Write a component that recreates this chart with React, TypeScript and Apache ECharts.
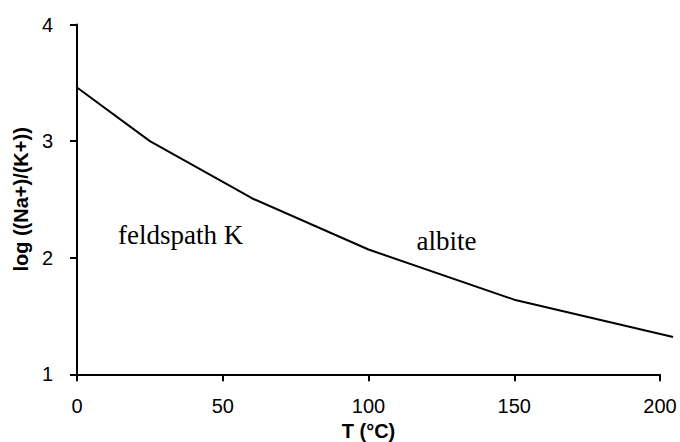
import React, { useEffect, useRef } from "react";
import * as echarts from "echarts";

const temperatures = [0, 25, 60, 100, 150, 204.5];
const logRatio = [3.46, 3.0, 2.51, 2.07, 1.64, 1.32];
const xTicks = [0, 50, 100, 150, 200];
const yTicks = [1, 2, 3, 4];
const regionLabels = ["feldspath K", "albite"];

export default function App() {
  const ref = useRef<HTMLDivElement>(null);
  useEffect(() => {
    if (!ref.current) return;
    const chart = echarts.init(ref.current, null, { renderer: "svg" });
    const serif = "'Liberation Serif', 'Times New Roman', serif";
    const sans = "'Liberation Sans', Arial, sans-serif";
    const xMin = xTicks[0];
    const xMax = xTicks[xTicks.length - 1];
    const left = 77;
    const right = 20;
    const plotW = 680 - left - right;
    const lineMax = 205;
    const right2 = 680 - left - (plotW * (lineMax - xMin)) / (xMax - xMin);
    chart.setOption({
      animation: false,
      backgroundColor: "#ffffff",
      grid: [
        { left, top: 24.5, right, bottom: 67.7, containLabel: false, outerBoundsMode: "none" },
        { left, top: 24.5, right: right2, bottom: 67.7, containLabel: false, outerBoundsMode: "none" },
      ],
      xAxis: [
        {
          type: "value",
          gridIndex: 0,
          min: xMin,
          max: xMax,
          interval: 50,
          name: "T (°C)",
          nameLocation: "middle",
          nameGap: 46,
          nameTextStyle: { fontFamily: sans, fontWeight: "bold", fontSize: 20, color: "#000" },
          axisLine: { show: true, lineStyle: { color: "#000", width: 2 } },
          axisTick: { show: true, length: 7, inside: false, lineStyle: { color: "#000", width: 2 } },
          axisLabel: { fontFamily: sans, fontSize: 20, color: "#000", margin: 22 },
          splitLine: { show: false },
        },
        {
          type: "value",
          gridIndex: 1,
          min: xMin,
          max: lineMax,
          show: false,
          splitLine: { show: false },
        },
      ],
      yAxis: [
        {
          type: "value",
          gridIndex: 0,
          min: yTicks[0],
          max: yTicks[yTicks.length - 1],
          interval: 1,
          name: "log ((Na+)/(K+))",
          nameLocation: "middle",
          nameGap: 45,
          nameTextStyle: { fontFamily: sans, fontWeight: "bold", fontSize: 20, color: "#000" },
          axisLine: { show: true, lineStyle: { color: "#000", width: 2 } },
          axisTick: { show: true, length: 7, inside: false, lineStyle: { color: "#000", width: 2 } },
          axisLabel: { fontFamily: sans, fontSize: 20, color: "#000", margin: 24 },
          splitLine: { show: false },
        },
        {
          type: "value",
          gridIndex: 1,
          min: yTicks[0],
          max: yTicks[yTicks.length - 1],
          show: false,
          splitLine: { show: false },
        },
      ],
      series: [
        {
          type: "line",
          xAxisIndex: 1,
          yAxisIndex: 1,
          data: temperatures.map((t, i) => [t, logRatio[i]]),
          showSymbol: false,
          clip: false,
          lineStyle: { color: "#000", width: 2 },
        },
      ],
      graphic: [
        {
          type: "text",
          left: 118,
          top: 221,
          style: { text: regionLabels[0], font: `27px ${serif}`, fill: "#000" },
        },
        {
          type: "text",
          left: 416.5,
          top: 227,
          style: { text: regionLabels[1], font: `27px ${serif}`, fill: "#000" },
        },
      ],
    });
    return () => chart.dispose();
  }, []);
  return <div ref={ref} style={{ width: 680, height: 442, position: "absolute", left: 0, top: 0 }} />;
}
